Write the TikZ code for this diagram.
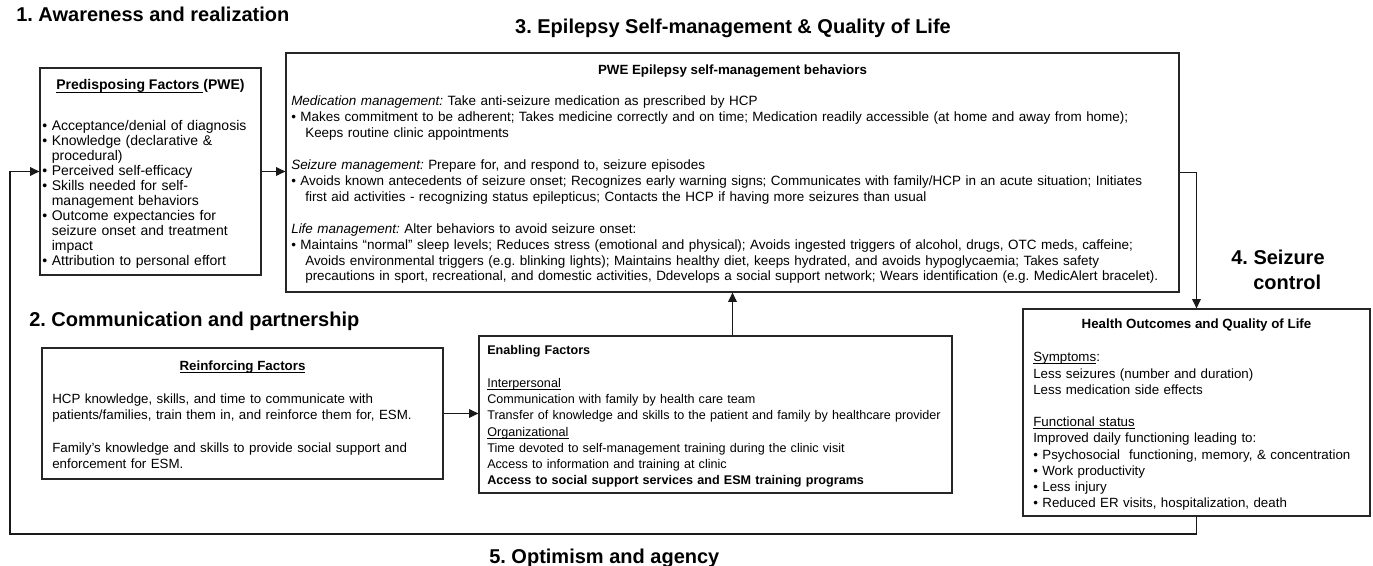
\documentclass[tikz,border=0pt]{standalone}
\usepackage{fontspec}
\setmainfont{Liberation Sans}
\usetikzlibrary{arrows.meta,fit}
\frenchspacing

% underline at a fixed depth below the baseline
\newlength{\ulwd}
\newcommand{\ulx}[1]{\leavevmode\settowidth{\ulwd}{#1}\rlap{\rule[-1.8pt]{\ulwd}{0.6pt}}#1}
% bullet and the indent of a wrapped bullet line
\newcommand{\bul}{•\ }
\newcommand{\ind}{\hspace*{10.5pt}}
\newcommand{\bind}{\hphantom{•\ }}

\begin{document}
\begin{tikzpicture}[x=0.75pt,y=-0.75pt,
  frame/.style={draw=black!85, line width=0.9pt, inner sep=0pt},
  arr/.style={draw=black!90, line width=0.9pt, -{Triangle[length=7pt,width=6.5pt]}},
  section/.style={font=\fontsize{15}{18}\selectfont\bfseries, inner sep=0pt, anchor=base west},
  boxhead/.style={inner sep=0pt, anchor=base},
  body/.style={anchor=north west, inner sep=0pt, align=left, text width=#1},
]
\useasboundingbox (0,0) rectangle (1373,566);

% ---------- boxes ----------
\node[frame, fit={(40,68) (261,275)}] (pred) {};
\node[frame, fit={(286,53) (1179,292)}] (pwe) {};
\node[frame, fit={(42,348) (443,479)}] (reinf) {};
\node[frame, fit={(479,336) (952,493)}] (enab) {};
\node[frame, fit={(1023,309) (1370,516)}] (health) {};

% ---------- section titles ----------
\node[section] (t1) at (16,22) {1. Awareness and realization};
\node[section, anchor=base] (t3) at (733,34) {3. Epilepsy Self-management \& Quality of Life};
\node[section] (t2) at (29,327) {2. Communication and partnership};
\node[section] (t4a) at (1231,265) {4. Seizure};
\node[section] (t4b) at (1253,289.5) {control};
\node[section] (t5) at (489,563.5) {5. Optimism and agency};

% ---------- predisposing factors ----------
\node[boxhead, font=\fontsize{10.5}{11.3}\selectfont\bfseries] (predhead) at (150.5,90)
  {\ulx{Predisposing Factors\ }(PWE)};
\node[body=200pt, font=\fontsize{10.5}{11.3}\selectfont] (predtext) at (42,119.5) {\strut
\bul Acceptance/denial of diagnosis\\
\bul Knowledge (declarative \&\\
\bind procedural)\\
\bul Perceived self-efficacy\\
\bul Skills needed for self-\\
\bind management behaviors\\
\bul Outcome expectancies for\\
\bind seizure onset and treatment\\
\bind impact\\
\bul Attribution to personal effort};

% ---------- self-management behaviors ----------
\node[boxhead, font=\fontsize{10}{12}\selectfont\bfseries] (pwehead) at (732.5,74.8)
  {PWE Epilepsy self-management behaviors};
\node[body=700pt, font=\fontsize{10.1}{11.95}\selectfont] (pwetext) at (291,94.3) {\strut
\textit{Medication management:} Take anti-seizure medication as prescribed by HCP\\
\bul Makes commitment to be adherent; Takes medicine correctly and on time; Medication readily accessible (at home and away from home);\\
\ind Keeps routine clinic appointments\\[11.95pt]
\textit{Seizure management:} Prepare for, and respond to, seizure episodes\\
\bul Avoids known antecedents of seizure onset; Recognizes early warning signs; Communicates with family/HCP in an acute situation; Initiates\\
\ind first aid activities - recognizing status epilepticus; Contacts the HCP if having more seizures than usual\\[11.95pt]
\textit{Life management:} Alter behaviors to avoid seizure onset:\\
\bul Maintains “normal” sleep levels; Reduces stress (emotional and physical); Avoids ingested triggers of alcohol, drugs, OTC meds, caffeine;\\
\ind Avoids environmental triggers (e.g. blinking lights); Maintains healthy diet, keeps hydrated, and avoids hypoglycaemia; Takes safety\\
\ind precautions in sport, recreational, and domestic activities, Ddevelops a social support network; Wears identification (e.g. MedicAlert bracelet).};

% ---------- reinforcing factors ----------
\node[boxhead, font=\fontsize{10}{12.2}\selectfont\bfseries] (reinfhead) at (242.5,370.5)
  {\ulx{Reinforcing Factors}};
\node[body=320pt, font=\fontsize{10}{12.19}\selectfont] (reinftext) at (52,391.7) {\strut
HCP knowledge, skills, and time to communicate with\\
patients/families, train them in, and reinforce them for, ESM.\\[12.19pt]
Family’s knowledge and skills to provide social support and\\
enforcement for ESM.};

% ---------- enabling factors ----------
\node[body=380pt, font=\fontsize{9.45}{12.2}\selectfont] (enabtext) at (487,343.2) {\strut
\textbf{Enabling Factors}\\[12.2pt]
\ulx{Interpersonal}\\
Communication with family by health care team\\
Transfer of knowledge and skills to the patient and family by healthcare provider\\
\ulx{Organizational}\\
Time devoted to self-management training during the clinic visit\\
Access to information and training at clinic\\
\textbf{Access to social support services and ESM training programs}};

% ---------- health outcomes ----------
\node[boxhead, font=\fontsize{10}{12.15}\selectfont\bfseries] (healthhead) at (1196.5,328.1)
  {Health Outcomes and Quality of Life};
\node[body=300pt, font=\fontsize{10}{12.15}\selectfont] (healthtext) at (1033,350.2) {\strut
\ulx{Symptoms}:\\
Less seizures (number and duration)\\
Less medication side effects\\[12.15pt]
\ulx{Functional status}\\
Improved daily functioning leading to:\\
\bul Psychosocial\ \ functioning, memory, \& concentration\\
\bul Work productivity\\
\bul Less injury\\
\bul Reduced ER visits, hospitalization, death};

% ---------- connectors ----------
\coordinate (loopbl) at (10,534);
\draw[arr] (pred.east) -- (pred.east -| pwe.west);
\draw[arr] (pwe.east) -| (health.north);
\draw[arr] (reinf.east) -- (reinf.east -| enab.west);
\draw[arr] (pwe.south |- enab.north) -- (pwe.south);
\draw[arr] (health.south) |- (loopbl) |- (pred.west);
\end{tikzpicture}
\end{document}
